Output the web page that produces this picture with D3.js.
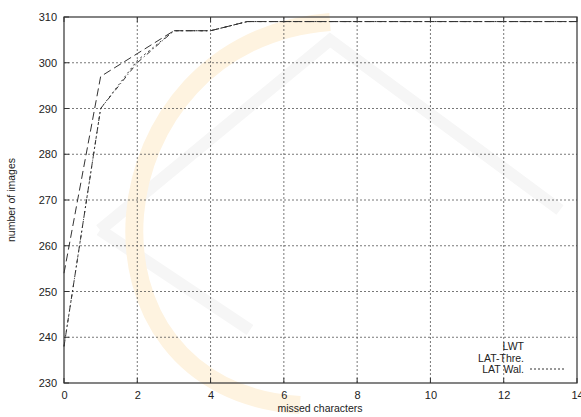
<!DOCTYPE html>
<html>
<head>
<meta charset="utf-8">
<script src="https://cdn.jsdelivr.net/npm/d3@7"></script>
<style>
body { margin: 0; background: #fff; }
svg text { font-family: "Liberation Sans", Arial, sans-serif; fill: #222; }
</style>
</head>
<body>
<svg id="chart" width="581" height="417"></svg>
<script>
// data
var missed = [0, 1, 2, 3, 4, 5, 6, 7, 8, 9, 10, 11, 12, 13, 14];
var lwt = [254, 297, 302, 307, 307, 309, 309, 309, 309, 309, 309, 309, 309, 309, 309];
var latThre = [238, 290, 300, 307, 307, 309, 309, 309, 309, 309, 309, 309, 309, 309, 309];
var latWal = [238, 290, 300.5, 307, 307, 309, 309, 309, 309, 309, 309, 309, 309, 309, 309];
var xTicks = [0, 2, 4, 6, 8, 10, 12, 14];
var yTicks = [230, 240, 250, 260, 270, 280, 290, 300, 310];
var seriesNames = ["LWT", "LAT-Thre.", "LAT Wal."];

// layout
var plotLeft = 64, plotRight = 577, plotTop = 17, plotBottom = 383;
var x = d3.scaleLinear().domain([0, 14]).range([plotLeft, plotRight]);
var y = d3.scaleLinear().domain([230, 310]).range([plotBottom, plotTop]);

var svg = d3.select("#chart");

// faint watermark behind the plot
var wm = svg.append("g");
wm.append("path")
	.attr("d", "M100,230 L330,40 L560,210 M250,330 L100,230")
	.attr("fill", "none").attr("stroke", "#f6f6f6").attr("stroke-width", 12);
wm.append("path")
	.attr("d", "M330,22 C90,40 60,390 300,405")
	.attr("fill", "none").attr("stroke", "#fef3e0").attr("stroke-width", 18);

// grid
svg.append("g").selectAll("line").data(xTicks.slice(1, -1)).enter().append("line")
	.attr("x1", function(d){ return x(d); }).attr("x2", function(d){ return x(d); })
	.attr("y1", plotTop).attr("y2", plotBottom)
	.attr("stroke", "#555").attr("stroke-width", 0.8).attr("stroke-dasharray", "2,2");
svg.append("g").selectAll("line").data(yTicks.slice(1, -1)).enter().append("line")
	.attr("y1", function(d){ return y(d); }).attr("y2", function(d){ return y(d); })
	.attr("x1", plotLeft).attr("x2", plotRight)
	.attr("stroke", "#555").attr("stroke-width", 0.8).attr("stroke-dasharray", "2,2");

// axes
var xAxis = d3.axisBottom(x).tickValues(xTicks).tickSize(0).tickPadding(8);
var yAxis = d3.axisLeft(y).tickValues(yTicks).tickSize(0).tickPadding(7);
var gx = svg.append("g").attr("transform", "translate(0," + plotBottom + ")").call(xAxis);
var gy = svg.append("g").attr("transform", "translate(" + plotLeft + ",0)").call(yAxis);
[gx, gy].forEach(function(g){
	g.select(".domain").remove();
	g.selectAll("text").style("font-size", "11px").style("font-family", "Liberation Sans, Arial, sans-serif").attr("fill", "#222");
});

// small inner ticks on top/bottom/left
svg.append("g").selectAll("line").data(xTicks).enter().append("line")
	.attr("x1", function(d){ return x(d); }).attr("x2", function(d){ return x(d); })
	.attr("y1", plotTop).attr("y2", plotTop + 5).attr("stroke", "#333");
svg.append("g").selectAll("line").data(xTicks).enter().append("line")
	.attr("x1", function(d){ return x(d); }).attr("x2", function(d){ return x(d); })
	.attr("y1", plotBottom).attr("y2", plotBottom - 5).attr("stroke", "#333");
svg.append("g").selectAll("line").data(yTicks).enter().append("line")
	.attr("y1", function(d){ return y(d); }).attr("y2", function(d){ return y(d); })
	.attr("x1", plotLeft).attr("x2", plotLeft + 5).attr("stroke", "#333");

// frame
svg.append("rect").attr("x", plotLeft).attr("y", plotTop)
	.attr("width", plotRight - plotLeft).attr("height", plotBottom - plotTop)
	.attr("fill", "none").attr("stroke", "#333").attr("stroke-width", 1.2);

// lines
var line = d3.line()
	.x(function(d, i){ return x(missed[i]); })
	.y(function(d){ return y(d); });

var styles = [
	{ data: lwt, dash: "8,4" },
	{ data: latThre, dash: "5,3,1,3" },
	{ data: latWal, dash: "2,3" }
];
styles.forEach(function(s){
	svg.append("path").datum(s.data)
		.attr("d", line)
		.attr("fill", "none").attr("stroke", "#333").attr("stroke-width", 1)
		.attr("stroke-dasharray", s.dash);
});

// legend
var legend = svg.append("g");
legend.selectAll("text").data(seriesNames).enter().append("text")
	.attr("x", 524).attr("y", function(d, i){ return 350 + i * 11.5; })
	.attr("text-anchor", "end").style("font-size", "10.5px")
	.text(function(d){ return d; });
legend.append("line")
	.attr("x1", 530).attr("x2", 565).attr("y1", 369).attr("y2", 369)
	.attr("stroke", "#333").attr("stroke-dasharray", "2,2");

// axis titles
svg.append("text").attr("x", 320).attr("y", 412)
	.attr("text-anchor", "middle").style("font-size", "10.5px")
	.text("missed characters");
svg.append("text").attr("transform", "translate(15,200) rotate(-90)")
	.attr("text-anchor", "middle").style("font-size", "10.5px")
	.text("number of images");
</script>
</body>
</html>
